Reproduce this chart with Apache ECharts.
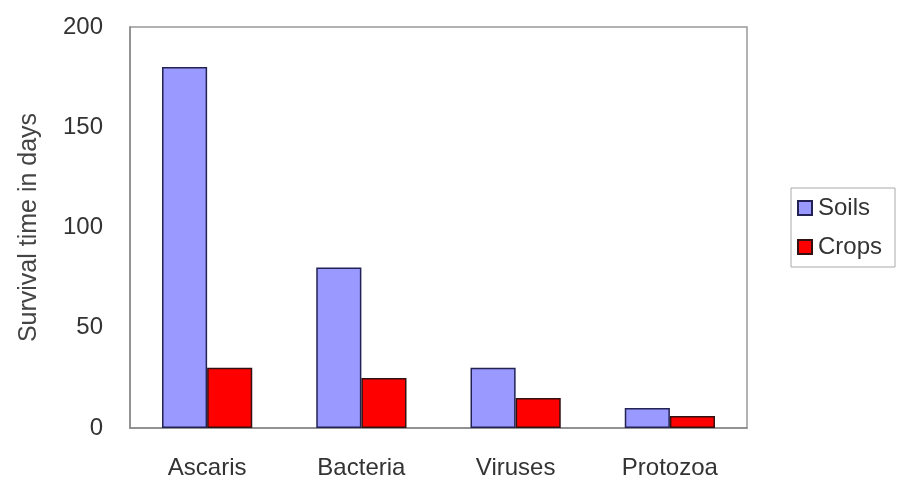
<!DOCTYPE html>
<html><head><meta charset="utf-8">
<script src="https://cdn.jsdelivr.net/npm/echarts@6/dist/echarts.min.js"></script>
<style>html,body{margin:0;padding:0;background:#fff}#c{width:900px;height:483px}</style>
</head><body><div id="c"></div>
<script>
const categories = ['Ascaris', 'Bacteria', 'Viruses', 'Protozoa'];
const soils = [180, 80, 30, 10];
const crops = [30, 25, 15, 6];
const yTicks = [0, 50, 100, 150, 200];

const chart = echarts.init(document.getElementById('c'));
const font = '"Liberation Sans", Arial, sans-serif';
chart.setOption({
  animation: false,
  backgroundColor: '#fff',
  grid: { left: 130, right: 153, top: 27, bottom: 55, show: true, borderColor: '#999', borderWidth: 1.5, backgroundColor: 'transparent' },
  legend: {
    orient: 'vertical', left: 791, top: 188,
    data: ['Soils', 'Crops'],
    itemWidth: 14, itemHeight: 14, itemGap: 15,
    padding: [8, 13, 8, 6],
    borderColor: '#aaa', borderWidth: 1,
    textStyle: { fontFamily: font, fontSize: 24, color: '#333', lineHeight: 24, padding: [0, 0, 0, 1] },
    icon: 'rect'
  },
  xAxis: {
    type: 'category', data: categories,
    axisLine: { lineStyle: { color: '#888', width: 1.5 } },
    axisTick: { show: false },
    axisLabel: { fontFamily: font, fontSize: 24, color: '#333', margin: 28 }
  },
  yAxis: {
    type: 'value', min: yTicks[0], max: yTicks[yTicks.length - 1], interval: 50,
    name: 'Survival time in days', nameLocation: 'middle', nameGap: 88,
    nameTextStyle: { fontFamily: font, fontSize: 25, color: '#444' },
    axisLine: { show: true, lineStyle: { color: '#888', width: 1.5 } },
    axisTick: { show: false },
    splitLine: { show: false },
    axisLabel: { fontFamily: font, fontSize: 24, color: '#333', margin: 27 }
  },
  series: [
    { name: 'Soils', type: 'bar', data: soils, barGap: '0%', barCategoryGap: '41.5%',
      itemStyle: { color: '#9999ff', borderColor: '#222255', borderWidth: 1.5 } },
    { name: 'Crops', type: 'bar', data: crops,
      itemStyle: { color: '#ff0000', borderColor: '#331111', borderWidth: 1.5 } }
  ]
});
</script></body></html>
